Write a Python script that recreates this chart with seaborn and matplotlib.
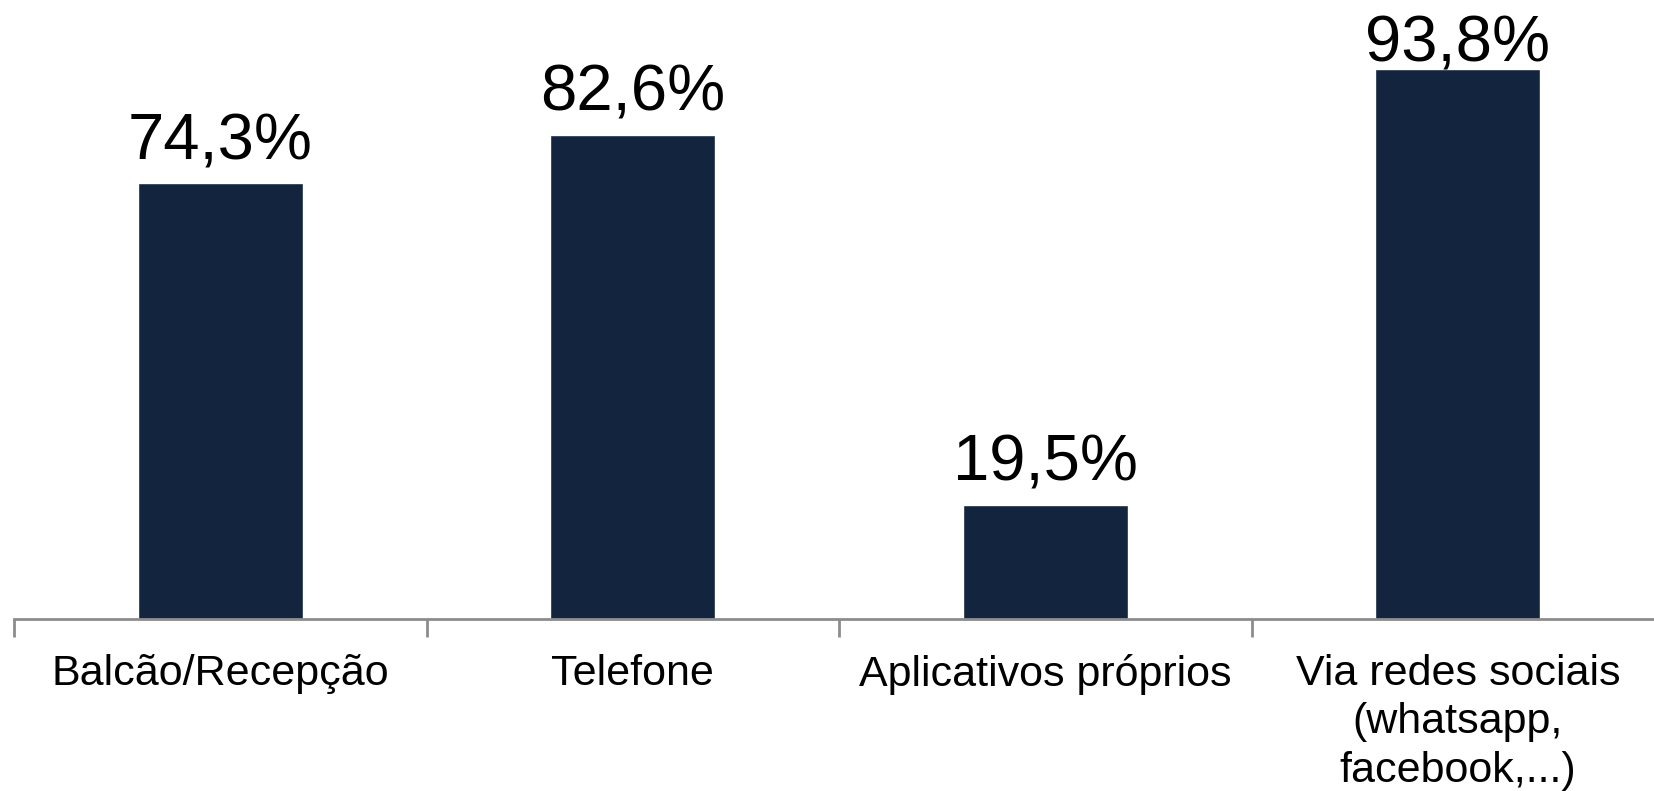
import pandas as pd
import numpy as np
import matplotlib.pyplot as plt
import seaborn as sns

categorias = ["Balcão/Recepção", "Telefone", "Aplicativos próprios",
              "Via redes sociais\n(whatsapp,\nfacebook,...)"]
valores = [74.3, 82.6, 19.5, 93.8]
rotulos = ["74,3%", "82,6%", "19,5%", "93,8%"]

sns.set_theme(style="white")
plt.rcParams['font.family'] = ['Liberation Sans', 'DejaVu Sans']

df = pd.DataFrame({"categoria": categorias, "valor": valores})

fig = plt.figure(figsize=(16.54, 7.91), dpi=100)
# eixo: base em y=619 px, comeca em x=14 px
ax = fig.add_axes([14 / 1654, (791 - 619) / 791, 1650 / 1654, 619 / 791])
sns.barplot(data=df, x="categoria", y="valor", color="#12243e", width=0.40,
            saturation=1, ax=ax)

ax.set_ylim(0, 619 / 5.864)
ax.set_xlim(-0.5, 3.5)
ax.set_xlabel("")
ax.set_ylabel("")
ax.set_yticks([])
for lado in ["top", "right", "left"]:
    ax.spines[lado].set_visible(False)
ax.spines["bottom"].set_color("#8c8c8c")
ax.spines["bottom"].set_linewidth(2)

ax.tick_params(axis="x", which="major", length=0, pad=25, labelsize=31,
               labelcolor="black")
for t in ax.get_xticklabels():
    t.set_horizontalalignment("center")
    t.set_linespacing(1.28)
ax.set_xticks(np.arange(-0.5, 4, 1), minor=True)
ax.tick_params(axis="x", which="minor", bottom=True, length=13, width=2,
               color="#8c8c8c")

# rotulos: 24 px acima da barra, mas sem sair do topo da figura
altura_fig = fig.get_figheight() * fig.dpi
for barra, texto in zip(ax.patches, rotulos):
    x = barra.get_x() + barra.get_width() / 2
    topo_px = ax.transData.transform((x, barra.get_height()))[1]
    base_px = min(topo_px + 24, altura_fig - 15 - 47)
    ax.annotate(texto, (x, barra.get_height()),
                xytext=(0, (base_px - topo_px) * 72 / fig.dpi),
                textcoords="offset points", ha="center",
                va="baseline", fontsize=47, color="black")

fig.savefig("out.png", dpi=100)
